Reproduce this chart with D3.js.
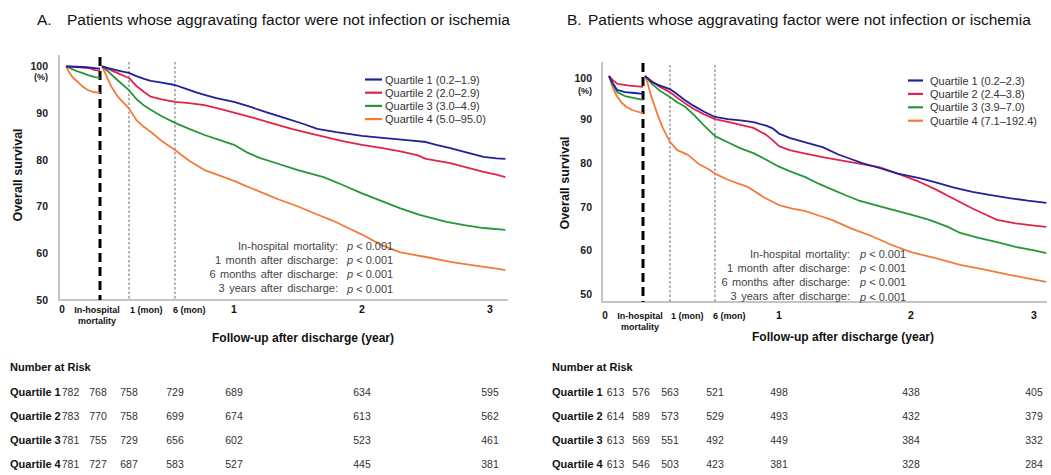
<!DOCTYPE html>
<html><head><meta charset="utf-8">
<script src="https://cdn.jsdelivr.net/npm/d3@7/dist/d3.min.js"></script>
<style>
body{margin:0;background:#fff;}
svg{display:block;font-family:"Liberation Sans",Arial,Helvetica,sans-serif;}
</style></head><body>
<svg id="chart" width="1051" height="475"></svg>
<script>
// ---------------- DATA ----------------
const titleLetters = ["A.", "B."];
const titleText = "Patients whose aggravating factor were not infection or ischemia";
const quartiles = ["Quartile 1", "Quartile 2", "Quartile 3", "Quartile 4"];
const legendA = ["Quartile 1 (0.2–1.9)", "Quartile 2 (2.0–2.9)", "Quartile 3 (3.0–4.9)", "Quartile 4 (5.0–95.0)"];
const legendB = ["Quartile 1 (0.2–2.3)", "Quartile 2 (2.4–3.8)", "Quartile 3 (3.9–7.0)", "Quartile 4 (7.1–192.4)"];
const yTicks = [50, 60, 70, 80, 90, 100];
const yearTicks = [1, 2, 3];
const monthTicks = [1/12, 0.5];
const monthTickLabels = ["1 (mon)", "6 (mon)"];
const pLabels = ["In-hospital mortality:", "1 month after discharge:", "6 months after discharge:", "3 years after discharge:"];
const pValues = ["0.001", "0.001", "0.001", "0.001"];
const riskTimes = [1/12, 0.5, 1, 2, 3];   // after the "start" and "discharge" columns

const riskA = [
  [782, 768, 758, 729, 689, 634, 595],
  [783, 770, 758, 699, 674, 613, 562],
  [781, 755, 729, 656, 602, 523, 461],
  [781, 727, 687, 583, 527, 445, 381]
];
const riskB = [
  [613, 576, 563, 521, 498, 438, 405],
  [614, 589, 573, 529, 493, 432, 379],
  [613, 569, 551, 492, 449, 384, 332],
  [613, 546, 503, 423, 381, 328, 284]
];

// In-hospital survival (t = fraction of hospital stay, %)
const hospA_Q1 = [[0,100],[0.3,99.9],[0.6,99.8],[0.85,99.6],[1,99.5]];
const hospA_Q2 = [[0,100],[0.4,99.8],[0.7,99.6],[0.85,99.2],[1,99.1]];
const hospA_Q3 = [[0,100],[0.15,99.5],[0.3,99.0],[0.47,98.6],[0.65,98.1],[0.85,97.7],[1,97.5]];
const hospA_Q4 = [[0,100],[0.1,98.6],[0.2,97.6],[0.35,96.6],[0.5,95.6],[0.65,94.9],[0.8,94.5],[1,94.3]];

const hospB_Q1 = [[0,100],[0.1,98.5],[0.24,96.8],[0.47,96.3],[0.75,96.1],[1,95.9]];
const hospB_Q2 = [[0,100],[0.12,99.0],[0.25,98.2],[0.6,97.8],[1,97.5]];
const hospB_Q3 = [[0,100],[0.1,98.2],[0.24,96.3],[0.47,95.4],[0.75,94.9],[1,94.5]];
const hospB_Q4 = [[0,100],[0.08,98.0],[0.18,96.1],[0.28,94.8],[0.38,93.8],[0.52,92.9],[0.68,92.2],[0.85,91.8],[1,91.5]];

// Survival after discharge (t in years, %)
const postA_Q1 = [[0,100],[0.02,99.6],[0.05,99.1],[0.083,98.6],[0.15,97.9],[0.22,97.3],[0.28,96.9],[0.38,96.5],[0.5,96.0],[0.6,95.1],[0.68,94.4],[0.75,93.9],[0.85,93.2],[1.0,92.4],[1.13,91.3],[1.25,90.2],[1.4,88.9],[1.55,87.6],[1.65,86.6],[1.8,85.9],[2.0,85.1],[2.16,84.7],[2.35,84.2],[2.5,83.8],[2.58,83.2],[2.69,82.5],[2.8,81.7],[2.95,80.6],[3.05,80.3],[3.12,80.2]];
const postA_Q2 = [[0,100],[0.02,99.4],[0.05,98.5],[0.083,97.5],[0.15,95.8],[0.22,94.5],[0.28,93.5],[0.38,92.9],[0.5,92.4],[0.62,92.1],[0.75,91.7],[0.88,90.9],[1.0,90.1],[1.16,88.9],[1.3,87.8],[1.45,86.6],[1.65,85.3],[1.85,84.0],[2.0,83.2],[2.16,82.5],[2.3,81.8],[2.43,81.0],[2.5,80.2],[2.69,79.3],[2.8,78.5],[2.95,77.4],[3.05,76.8],[3.12,76.3]];
const postA_Q3 = [[0,100],[0.02,98.8],[0.05,96.9],[0.083,94.9],[0.15,93.0],[0.22,91.6],[0.28,90.7],[0.38,89.3],[0.5,87.9],[0.62,86.6],[0.75,85.3],[0.88,84.2],[1.0,83.2],[1.1,81.6],[1.2,80.4],[1.35,79.1],[1.5,77.8],[1.7,76.3],[1.85,74.6],[2.0,72.8],[2.15,71.2],[2.3,69.6],[2.45,68.2],[2.66,66.7],[2.8,66.0],[2.95,65.4],[3.12,65.0]];
const postA_Q4 = [[0,100],[0.01,98.5],[0.03,95.5],[0.05,93.4],[0.083,91.0],[0.15,88.5],[0.22,87.0],[0.28,86.0],[0.38,84.0],[0.5,82.1],[0.62,79.8],[0.75,77.8],[0.88,76.6],[1.0,75.5],[1.1,74.3],[1.2,73.2],[1.35,71.5],[1.5,70.0],[1.65,68.3],[1.77,67.0],[1.9,65.3],[2.0,64.0],[2.15,61.8],[2.3,60.2],[2.5,59.2],[2.7,58.1],[2.9,57.3],[3.08,56.6],[3.12,56.4]];

const postB_Q1 = [[0,100],[0.01,99.4],[0.023,98.6],[0.05,97.8],[0.083,97.0],[0.15,95.8],[0.22,94.5],[0.3,93.2],[0.4,91.8],[0.5,90.6],[0.6,90.1],[0.7,89.8],[0.8,89.4],[0.9,88.6],[0.95,88.0],[1.0,86.8],[1.08,85.8],[1.2,84.8],[1.33,83.7],[1.45,82.0],[1.55,80.9],[1.63,80.0],[1.76,78.9],[1.9,77.6],[2.07,76.6],[2.2,75.6],[2.35,74.4],[2.5,73.4],[2.65,72.7],[2.8,72.0],[2.95,71.4],[3.1,70.9]];
const postB_Q2 = [[0,100],[0.01,99.5],[0.023,98.8],[0.05,97.5],[0.083,96.3],[0.15,95.0],[0.22,93.8],[0.3,92.5],[0.4,91.2],[0.5,90.1],[0.6,89.5],[0.7,88.8],[0.8,88.1],[0.9,86.5],[0.95,85.3],[1.0,83.9],[1.08,83.0],[1.2,82.2],[1.33,81.4],[1.5,80.5],[1.63,79.8],[1.76,79.1],[1.9,77.6],[2.07,75.7],[2.2,74.0],[2.35,71.8],[2.5,69.6],[2.6,68.3],[2.7,67.0],[2.85,66.2],[3.0,65.7],[3.1,65.4]];
const postB_Q3 = [[0,100],[0.01,99.2],[0.023,98.2],[0.05,96.6],[0.083,95.2],[0.15,94.0],[0.22,93.0],[0.3,91.2],[0.4,88.6],[0.5,86.2],[0.6,84.8],[0.7,83.4],[0.8,82.3],[0.9,80.8],[1.0,79.2],[1.08,78.2],[1.2,76.8],[1.3,75.3],[1.4,74.0],[1.5,72.7],[1.6,71.5],[1.8,69.8],[2.0,68.2],[2.15,67.0],[2.3,65.4],[2.4,64.0],[2.55,62.9],[2.7,61.9],[2.85,60.8],[3.0,60.0],[3.1,59.4]];
const postB_Q4 = [[0,100],[0.008,98.5],[0.02,95.5],[0.04,91.5],[0.06,88.0],[0.083,84.9],[0.15,83.0],[0.25,81.9],[0.35,79.8],[0.45,78.5],[0.5,77.6],[0.6,76.2],[0.76,74.5],[0.88,72.2],[1.0,70.4],[1.1,69.6],[1.2,69.0],[1.3,68.0],[1.4,67.0],[1.55,65.0],[1.7,63.3],[1.85,61.3],[2.0,59.6],[2.2,58.2],[2.4,56.7],[2.6,55.6],[2.8,54.4],[2.95,53.6],[3.1,52.8]];

// ---------------- STYLE / LAYOUT ----------------
const colors = ["#20209c", "#e3224c", "#25963a", "#f47a38"];

const layoutA = {
  letter: titleLetters[0], legend: legendA, risk: riskA,
  hosp: [hospA_Q1, hospA_Q2, hospA_Q3, hospA_Q4],
  post: [postA_Q1, postA_Q2, postA_Q3, postA_Q4],
  titleX1: 37, titleX2: 67, titleY: 25,
  hx: [66, 100], dxDomain: [0, 1/12, 0.5, 1, 2, 3], dx: [102, 129, 175, 234, 362, 490],
  yRange: [300, 66.3],
  axisX: 59, axisTop: 55, axisBottom: 300, axisRight: 508,
  dashTop: 57, dotTop: 62,
  yLabelX: 18, yLabelY: 175, tickLabelX: 48, pctY: 80, topLabelShift: 0,
  xLab1Y: 313, xLab2Y: 324, xTitleX: 303, xTitleY: 342,
  legX1: 365, legX2: 382, legTX: 385, legY0: 79.5, legDY: 13.2,
  annLX: 338, annPX: 347, annY0: 250, annDY: 14,
  tabLX: 10, tabGap: 1, tabHeadY: 371, tabY0: 396, tabDY: 24
};
const layoutB = {
  letter: titleLetters[1], legend: legendB, risk: riskB,
  hosp: [hospB_Q1, hospB_Q2, hospB_Q3, hospB_Q4],
  post: [postB_Q1, postB_Q2, postB_Q3, postB_Q4],
  titleX1: 567, titleX2: 588, titleY: 25,
  hx: [609, 643], dxDomain: [0, 1/12, 0.5, 1, 2, 3], dx: [645, 670, 715, 779, 911, 1034],
  yRange: [294, 76],
  axisX: 602, axisTop: 62, axisBottom: 302, axisRight: 1047,
  dashTop: 63, dotTop: 65,
  yLabelX: 565, yLabelY: 183, tickLabelX: 592, pctY: 94, topLabelShift: 2,
  xLab1Y: 319, xLab2Y: 330, xTitleX: 843, xTitleY: 341,
  legX1: 908, legX2: 923, legTX: 930, legY0: 80.5, legDY: 13.4,
  annLX: 850, annPX: 860, annY0: 258, annDY: 14,
  tabLX: 552, tabGap: 4, tabHeadY: 371, tabY0: 396, tabDY: 24
};

const svg = d3.select("#chart");

function drawPanel(L) {
  const g = svg.append("g");
  const xH = d3.scaleLinear().domain([0, 1]).range(L.hx);
  const xD = d3.scaleLinear().domain(L.dxDomain).range(L.dx);
  const y = d3.scaleLinear().domain([50, 100]).range(L.yRange);

  // title
  const t = g.append("text").attr("y", L.titleY).attr("font-size", 15.5).attr("fill", "#111");
  t.append("tspan").attr("x", L.titleX1).text(L.letter);
  t.append("tspan").attr("x", L.titleX2).text(titleText);

  // axis lines
  g.append("line").attr("x1", L.axisX).attr("x2", L.axisX).attr("y1", L.axisTop).attr("y2", L.axisBottom)
    .attr("stroke", "#c4c4c4").attr("stroke-width", 2);
  g.append("line").attr("x1", L.axisX - 1).attr("x2", L.axisRight).attr("y1", L.axisBottom).attr("y2", L.axisBottom)
    .attr("stroke", "#c4c4c4").attr("stroke-width", 2);

  // y axis labels via d3 axis
  const ya = g.append("g").attr("transform", `translate(${L.tickLabelX},0)`)
    .call(d3.axisLeft(y).tickValues(yTicks).tickSize(0).tickPadding(0).tickFormat(d3.format("d")));
  ya.select(".domain").remove();
  ya.selectAll("text").attr("font-family", "Liberation Sans, Arial, sans-serif")
    .attr("font-size", 10.5).attr("font-weight", "bold").attr("fill", "#222");
  ya.selectAll(".tick").filter(d => d === 100).select("text").attr("y", L.topLabelShift);
  g.append("text").attr("x", L.tickLabelX).attr("y", L.pctY).attr("text-anchor", "end")
    .attr("font-size", 9).attr("font-weight", "bold").attr("fill", "#222").text("(%)");

  g.append("text").attr("transform", `translate(${L.yLabelX},${L.yLabelY}) rotate(-90)`)
    .attr("text-anchor", "middle").attr("dominant-baseline", "central")
    .attr("font-size", 12.5).attr("font-weight", "bold").attr("fill", "#111").text("Overall survival");

  // vertical reference lines
  g.selectAll(".dot").data(monthTicks).join("line")
    .attr("x1", d => xD(d)).attr("x2", d => xD(d)).attr("y1", L.dotTop).attr("y2", L.axisBottom)
    .attr("stroke", "#808080").attr("stroke-width", 1.2).attr("stroke-dasharray", "2.5,2");
  g.append("line").attr("x1", xH(1)).attr("x2", xH(1)).attr("y1", L.dashTop).attr("y2", L.axisBottom)
    .attr("stroke", "#000").attr("stroke-width", 3).attr("stroke-dasharray", "9,5");

  // curves
  const lineH = d3.line().x(d => xH(d[0])).y(d => y(d[1]));
  const lineD = d3.line().x(d => xD(d[0])).y(d => y(d[1]));
  [3, 2, 1, 0].forEach(i => {
    g.append("path").attr("d", lineH(L.hosp[i])).attr("fill", "none")
      .attr("stroke", colors[i]).attr("stroke-width", 1.8).attr("stroke-linejoin", "round");
    g.append("path").attr("d", lineD(L.post[i])).attr("fill", "none")
      .attr("stroke", colors[i]).attr("stroke-width", 1.8).attr("stroke-linejoin", "round");
  });

  // x tick labels
  const xl = g.append("g").attr("font-weight", "bold").attr("fill", "#111");
  xl.append("text").attr("x", xH(0) - 4).attr("y", L.xLab1Y).attr("text-anchor", "middle").attr("font-size", 10).text("0");
  xl.append("text").attr("x", xH(1) - 3).attr("y", L.xLab1Y).attr("text-anchor", "middle").attr("font-size", 9).text("In-hospital");
  xl.append("text").attr("x", xH(1) - 3).attr("y", L.xLab2Y).attr("text-anchor", "middle").attr("font-size", 9).text("mortality");
  xl.selectAll(".mt").data(monthTicks).join("text")
    .attr("x", (d, i) => xD(d) + (i === 0 ? 1 : -2)).attr("y", L.xLab1Y).attr("font-size", 9)
    .text((d, i) => monthTickLabels[i]);
  xl.selectAll(".yt").data(yearTicks).join("text")
    .attr("x", d => xD(d)).attr("y", L.xLab1Y).attr("text-anchor", "middle").attr("font-size", 10.5).text(d => d);
  g.append("text").attr("x", L.xTitleX).attr("y", L.xTitleY).attr("text-anchor", "middle")
    .attr("font-size", 12).attr("font-weight", "bold").attr("fill", "#111").text("Follow-up after discharge (year)");

  // legend
  const lg = g.append("g");
  L.legend.forEach((s, i) => {
    const yy = L.legY0 + i * L.legDY;
    lg.append("line").attr("x1", L.legX1).attr("x2", L.legX2).attr("y1", yy).attr("y2", yy)
      .attr("stroke", colors[i]).attr("stroke-width", 2.2);
    lg.append("text").attr("x", L.legTX).attr("y", yy + 4).attr("font-size", 11).attr("fill", "#333").text(s);
  });

  // p-value annotations
  pLabels.forEach((s, i) => {
    const yy = L.annY0 + i * L.annDY;
    g.append("text").attr("x", L.annLX).attr("y", yy).attr("text-anchor", "end")
      .attr("font-size", 11).attr("word-spacing", 1.5).attr("fill", "#444").text(s);
    const p = g.append("text").attr("x", L.annPX).attr("y", yy + (i === 3 ? 1 : 0)).attr("font-size", 11).attr("fill", "#444");
    p.append("tspan").attr("font-style", "italic").text("p");
    p.append("tspan").text(" < " + pValues[i]);
  });

  // number at risk table
  g.append("text").attr("x", L.tabLX).attr("y", L.tabHeadY).attr("font-size", 11)
    .attr("font-weight", "bold").attr("fill", "#111").text("Number at Risk");
  const colX = [null, xH(1) - 2].concat(riskTimes.map(d => xD(d)));
  L.risk.forEach((row, i) => {
    const yy = L.tabY0 + i * L.tabDY;
    const lab = g.append("text").attr("x", L.tabLX).attr("y", yy).attr("font-size", 11)
      .attr("font-weight", "bold").attr("fill", "#111").text(quartiles[i]);
    const w = lab.node().getComputedTextLength();
    row.forEach((v, j) => {
      const tx = g.append("text").attr("y", yy).attr("font-size", 10.5).attr("fill", "#333").text(v);
      if (j === 0) tx.attr("x", L.tabLX + w + L.tabGap);
      else tx.attr("x", colX[j]).attr("text-anchor", "middle");
    });
  });
}

drawPanel(layoutA);
drawPanel(layoutB);
</script>
</body></html>
